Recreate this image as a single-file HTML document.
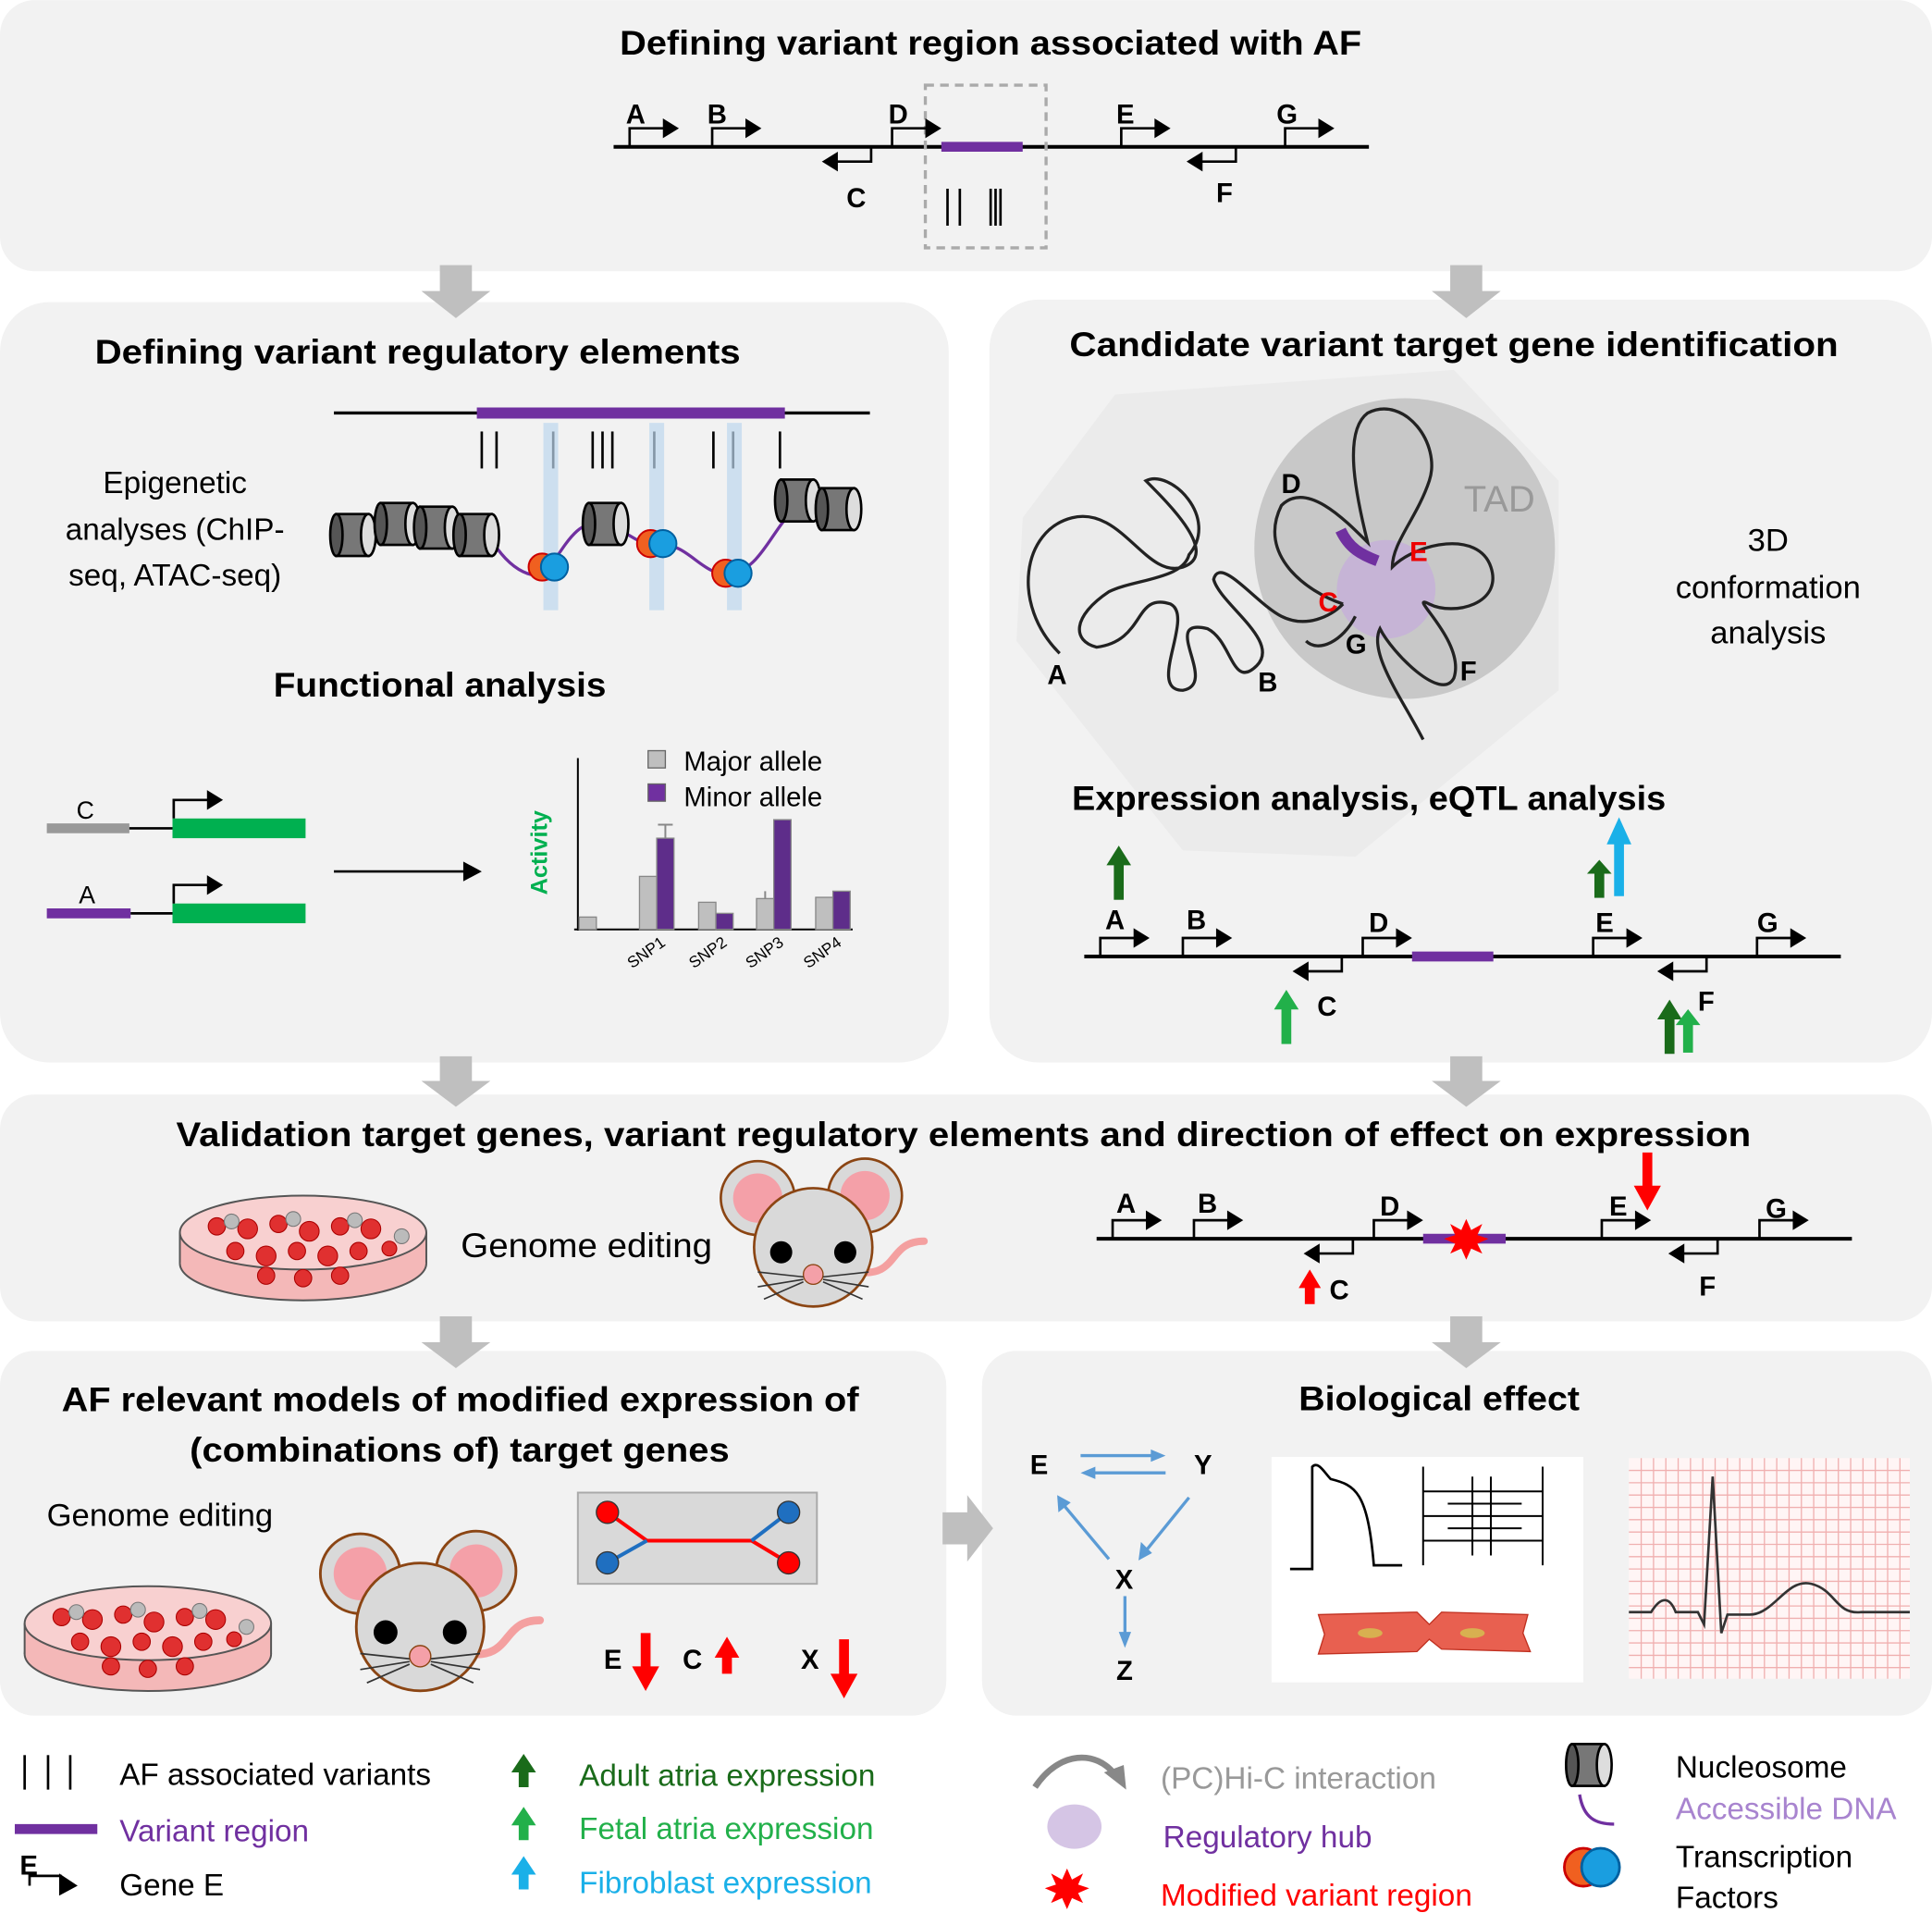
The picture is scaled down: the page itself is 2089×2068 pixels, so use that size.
<!DOCTYPE html>
<html><head><meta charset="utf-8"><style>
html,body{margin:0;padding:0;background:#fff;}
svg{display:block;}
text{font-family:"Liberation Sans",sans-serif;}
.t{font-weight:bold;font-size:28px;fill:#000;}
.l{font-size:25px;}
.g{font-weight:bold;font-size:22px;}
</style></head><body>
<svg width="2089" height="2068" viewBox="0 0 1568 1552" xmlns="http://www.w3.org/2000/svg">
<defs>
<g id="fw"><path d="M0 0 V-15 H28" fill="none" stroke="#000" stroke-width="2"/><polygon points="27,-23 40,-15 27,-7" fill="#000"/></g>
<g id="rv"><path d="M0 0 V12 H-28" fill="none" stroke="#000" stroke-width="2"/><polygon points="-27,4 -40,12 -27,20" fill="#000"/></g>
<g id="nuc"><rect x="-14" y="-17" width="26" height="34" fill="#777" stroke="#000" stroke-width="2"/><ellipse cx="-14" cy="0" rx="5" ry="17" fill="#555" stroke="#000" stroke-width="2"/><ellipse cx="12" cy="0" rx="6" ry="17" fill="#ddd" stroke="#000" stroke-width="2"/></g>
<g id="tf"><circle cx="-5" cy="0" r="11" fill="#f06020" stroke="#c00" stroke-width="1.5"/><circle cx="5" cy="0" r="11" fill="#1a9ee0" stroke="#0060a0" stroke-width="1.5"/></g>
<g id="up"><rect x="-4" y="14" width="8" height="30" fill="currentColor"/><polygon points="-10,16 10,16 0,0" fill="currentColor"/></g>
<g id="petri">
<ellipse cx="0" cy="20" rx="100" ry="30" fill="#f4b8b8" stroke="#555" stroke-width="1.5"/>
<rect x="-100" y="-5" width="200" height="25" fill="#f4b8b8"/>
<line x1="-100" y1="-5" x2="-100" y2="20" stroke="#555" stroke-width="1.5"/><line x1="100" y1="-5" x2="100" y2="20" stroke="#555" stroke-width="1.5"/>
<ellipse cx="0" cy="-5" rx="100" ry="30" fill="#f8d0d0" stroke="#555" stroke-width="1.5"/>
<g fill="#e03030" stroke="#a00" stroke-width="0.8">
<circle cx="-70" cy="-10" r="7"/><circle cx="-45" cy="-8" r="8"/><circle cx="-20" cy="-12" r="7"/><circle cx="5" cy="-6" r="8"/><circle cx="30" cy="-10" r="7"/><circle cx="55" cy="-8" r="8"/>
<circle cx="-55" cy="10" r="7"/><circle cx="-30" cy="14" r="8"/><circle cx="-5" cy="10" r="7"/><circle cx="20" cy="14" r="8"/><circle cx="45" cy="10" r="7"/><circle cx="70" cy="8" r="6"/>
<circle cx="-30" cy="30" r="7"/><circle cx="0" cy="32" r="7"/><circle cx="30" cy="30" r="7"/></g>
<g fill="#bbb" stroke="#777" stroke-width="0.8"><circle cx="-58" cy="-14" r="6"/><circle cx="-8" cy="-16" r="6"/><circle cx="42" cy="-15" r="6"/><circle cx="80" cy="-2" r="6"/></g>
</g>
<g id="mouse">
<path d="M35 20 C70 25 60 -5 90 -5" fill="none" stroke="#f4a0a0" stroke-width="6" stroke-linecap="round"/>
<circle cx="-45" cy="-40" r="30" fill="#d9d9d9" stroke="#8b4513" stroke-width="2"/><circle cx="-45" cy="-40" r="20" fill="#f4a0a8"/>
<circle cx="42" cy="-42" r="30" fill="#d9d9d9" stroke="#8b4513" stroke-width="2"/><circle cx="42" cy="-42" r="20" fill="#f4a0a8"/>
<circle cx="0" cy="0" r="48" fill="#d9d9d9" stroke="#8b4513" stroke-width="2"/>
<circle cx="-26" cy="4" r="9" fill="#000"/><circle cx="26" cy="4" r="9" fill="#000"/>
<circle cx="0" cy="22" r="8" fill="#f4a0a8" stroke="#8b4513" stroke-width="1"/>
<g stroke="#333" stroke-width="1.2"><line x1="-8" y1="24" x2="-45" y2="20"/><line x1="-8" y1="26" x2="-45" y2="32"/><line x1="-8" y1="28" x2="-40" y2="42"/><line x1="8" y1="24" x2="45" y2="20"/><line x1="8" y1="26" x2="45" y2="32"/><line x1="8" y1="28" x2="40" y2="42"/></g>
</g>
<polygon id="burst" points="0,-16 4,-7 13,-12 9,-3 18,0 9,4 13,12 4,8 0,17 -4,8 -13,12 -9,4 -18,0 -9,-3 -13,-12 -4,-7" fill="#f00"/>
</defs>

<!-- panels -->
<g fill="#f2f2f2">
<rect x="0" y="0" width="1568" height="220" rx="28"/>
<rect x="0" y="245" width="770" height="617" rx="40"/>
<rect x="803" y="243" width="765" height="619" rx="40"/>
<rect x="0" y="888" width="1568" height="184" rx="28"/>
<rect x="0" y="1096" width="768" height="296" rx="28"/>
<rect x="797" y="1096" width="771" height="296" rx="28"/>
</g>
<!-- gray arrows -->
<g fill="#bfbfbf">
<polygon points="357,215 383,215 383,236 398,236 370,258 342,236 357,236"/>
<polygon points="1177,215 1203,215 1203,236 1218,236 1190,258 1162,236 1177,236"/>
<polygon points="357,857 383,857 383,877 398,877 370,898 342,877 357,877"/>
<polygon points="1177,857 1203,857 1203,877 1218,877 1190,898 1162,877 1177,877"/>
<polygon points="357,1068 383,1068 383,1089 398,1089 370,1110 342,1089 357,1089"/>
<polygon points="1177,1068 1203,1068 1203,1089 1218,1089 1190,1110 1162,1089 1177,1089"/>
<polygon points="765,1227 785,1227 785,1213 806,1240 785,1267 785,1253 765,1253"/>
</g>

<!-- top -->
<text x="503" y="44" class="t" textLength="602" lengthAdjust="spacingAndGlyphs">Defining variant region associated with AF</text>
<line x1="498" y1="119" x2="1111" y2="119" stroke="#000" stroke-width="3"/>
<line x1="764" y1="119" x2="830" y2="119" stroke="#7030a0" stroke-width="8"/>
<rect x="751" y="69" width="98" height="132" fill="none" stroke="#aaa" stroke-width="2.5" stroke-dasharray="7,5"/>
<use href="#fw" x="511" y="119"/><use href="#fw" x="578" y="119"/><use href="#fw" x="724" y="119"/><use href="#fw" x="910" y="119"/><use href="#fw" x="1043" y="119"/>
<use href="#rv" x="707" y="119"/><use href="#rv" x="1003" y="119"/>
<g class="g"><text x="508" y="100">A</text><text x="574" y="100">B</text><text x="721" y="100">D</text><text x="906" y="100">E</text><text x="1036" y="100">G</text><text x="687" y="168">C</text><text x="987" y="164">F</text></g>
<g stroke="#000" stroke-width="2"><line x1="769" y1="153" x2="769" y2="183"/><line x1="779" y1="153" x2="779" y2="183"/><line x1="804" y1="153" x2="804" y2="183"/><line x1="808" y1="153" x2="808" y2="183"/><line x1="812" y1="153" x2="812" y2="183"/></g>

<!-- left mid -->
<text x="77" y="295" class="t" textLength="524" lengthAdjust="spacingAndGlyphs">Defining variant regulatory elements</text>
<line x1="271" y1="335" x2="706" y2="335" stroke="#000" stroke-width="2.5"/>
<line x1="387" y1="335" x2="637" y2="335" stroke="#7030a0" stroke-width="9"/>
<g stroke="#000" stroke-width="2"><line x1="391" y1="350" x2="391" y2="380"/><line x1="403" y1="350" x2="403" y2="380"/><line x1="449" y1="350" x2="449" y2="380"/><line x1="481" y1="350" x2="481" y2="380"/><line x1="489" y1="350" x2="489" y2="380"/><line x1="497" y1="350" x2="497" y2="380"/><line x1="531" y1="350" x2="531" y2="380"/><line x1="579" y1="350" x2="579" y2="380"/><line x1="595" y1="350" x2="595" y2="380"/><line x1="633" y1="350" x2="633" y2="380"/></g>
<g fill="#bdd7ee" opacity="0.7"><rect x="441" y="343" width="12" height="152"/><rect x="527" y="343" width="12" height="152"/><rect x="590" y="343" width="12" height="152"/></g>
<path d="M400 440 C420 470 440 470 445 462 C460 440 470 420 490 425 C510 430 520 445 535 442 C560 440 570 470 595 465 C620 460 630 420 650 410" fill="none" stroke="#7030a0" stroke-width="2.5"/>
<use href="#nuc" x="287" y="434"/><use href="#nuc" x="323" y="425"/><use href="#nuc" x="355" y="428"/><use href="#nuc" x="387" y="434"/><use href="#nuc" x="492" y="425"/><use href="#nuc" x="648" y="406"/><use href="#nuc" x="681" y="413"/>
<use href="#tf" x="445" y="460"/><use href="#tf" x="533" y="441"/><use href="#tf" x="594" y="465"/>
<g class="l" text-anchor="middle" font-size="26"><text x="142" y="400">Epigenetic</text><text x="142" y="438">analyses (ChIP-</text><text x="142" y="475">seq, ATAC-seq)</text></g>
<text x="222" y="565" class="t" textLength="270" lengthAdjust="spacingAndGlyphs">Functional analysis</text>
<line x1="38" y1="672" x2="105" y2="672" stroke="#999" stroke-width="8"/><line x1="105" y1="672" x2="140" y2="672" stroke="#000" stroke-width="2"/>
<rect x="140" y="664" width="108" height="16" fill="#00b050"/>
<use href="#fw" x="141" y="664"/>
<line x1="38" y1="741" x2="106" y2="741" stroke="#7030a0" stroke-width="8"/><line x1="106" y1="741" x2="140" y2="741" stroke="#000" stroke-width="2"/>
<rect x="140" y="733" width="108" height="16" fill="#00b050"/>
<use href="#fw" x="141" y="733"/>
<text x="62" y="664" font-size="20">C</text><text x="64" y="733" font-size="20">A</text>
<line x1="271" y1="707" x2="378" y2="707" stroke="#000" stroke-width="2"/><polygon points="376,699 391,707 376,715" fill="#000"/>
<line x1="469" y1="615" x2="469" y2="755" stroke="#000" stroke-width="1.5"/><line x1="466" y1="754" x2="692" y2="754" stroke="#000" stroke-width="1.5"/>
<text transform="translate(444,726) rotate(-90)" font-size="19" font-weight="bold" fill="#00b050">Activity</text>
<g fill="#bfbfbf" stroke="#888"><rect x="470" y="744" width="14" height="10"/><rect x="519" y="711" width="14" height="43"/><rect x="567" y="732" width="14" height="22"/><rect x="614" y="729" width="14" height="25"/><rect x="662" y="728" width="14" height="26"/></g>
<g fill="#5e2d8a" stroke="#888"><rect x="533" y="680" width="14" height="74"/><rect x="581" y="741" width="14" height="13"/><rect x="628" y="665" width="14" height="89"/><rect x="676" y="723" width="14" height="31"/></g>
<g stroke="#888" stroke-width="1.5"><line x1="540" y1="669" x2="540" y2="680"/><line x1="534" y1="669" x2="546" y2="669"/><line x1="621" y1="723" x2="621" y2="729"/></g>
<rect x="526" y="609" width="14" height="14" fill="#bfbfbf" stroke="#666"/><rect x="526" y="636" width="14" height="14" fill="#7030a0" stroke="#666"/>
<text x="555" y="625" font-size="22">Major allele</text><text x="555" y="654" font-size="22">Minor allele</text>
<g font-size="13"><text transform="translate(513,786) rotate(-35)">SNP1</text><text transform="translate(563,786) rotate(-35)">SNP2</text><text transform="translate(609,786) rotate(-35)">SNP3</text><text transform="translate(656,786) rotate(-35)">SNP4</text></g>

<!-- right mid -->
<polygon points="905,320 1180,300 1265,390 1265,560 1100,695 960,690 825,520 830,420" fill="#ebebeb"/>
<text x="868" y="289" class="t" textLength="624" lengthAdjust="spacingAndGlyphs">Candidate variant target gene identification</text>
<circle cx="1140" cy="445" r="122" fill="#c8c8c8"/>
<circle cx="1125" cy="478" r="40" fill="#c6b0d8" opacity="0.85"/>
<text x="1188" y="415" font-size="30" fill="#999">TAD</text>
<g fill="none" stroke="#222" stroke-width="2.5">
<path d="M860 530 C820 490 830 430 870 420 C910 410 930 470 960 460 C990 450 950 410 930 390 C950 380 990 420 965 450 C960 470 920 470 900 480 C870 500 870 520 890 525 C930 520 920 480 950 490 C970 500 930 560 960 560 C990 555 940 500 980 510 C1000 520 1000 560 1020 540 C1040 520 990 490 985 470 C990 450 1020 490 1040 500 C1060 510 1080 500 1090 490"/>
<path d="M1090 490 C1060 480 1020 450 1040 410 C1060 390 1090 420 1110 440 C1100 400 1090 350 1110 335 C1140 320 1170 360 1160 390 C1150 420 1130 440 1130 460 C1150 440 1200 430 1210 460 C1220 490 1180 500 1160 490 C1140 480 1190 520 1180 550 C1170 570 1130 530 1120 510 C1110 530 1140 570 1155 600 M1100 500 C1090 520 1070 530 1060 520"/>
</g>
<path d="M1088 430 C1095 445 1105 450 1118 455" fill="none" stroke="#7030a0" stroke-width="9"/>
<g class="g"><text x="1040" y="400">D</text><text x="1144" y="455" fill="#e00">E</text><text x="1070" y="496" fill="#e00">C</text><text x="1092" y="530">G</text><text x="1185" y="552">F</text><text x="850" y="555">A</text><text x="1021" y="561">B</text></g>
<g font-size="26" text-anchor="middle"><text x="1435" y="447">3D</text><text x="1435" y="485">conformation</text><text x="1435" y="522">analysis</text></g>
<text x="870" y="657" class="t" textLength="482" lengthAdjust="spacingAndGlyphs">Expression analysis, eQTL analysis</text>
<line x1="880" y1="776" x2="1494" y2="776" stroke="#000" stroke-width="3"/>
<line x1="1146" y1="776" x2="1212" y2="776" stroke="#7030a0" stroke-width="8"/>
<use href="#fw" x="893" y="776"/><use href="#fw" x="960" y="776"/><use href="#fw" x="1106" y="776"/><use href="#fw" x="1293" y="776"/><use href="#fw" x="1426" y="776"/>
<use href="#rv" x="1089" y="776"/><use href="#rv" x="1385" y="776"/>
<g class="g"><text x="897" y="754">A</text><text x="963" y="754">B</text><text x="1111" y="756">D</text><text x="1295" y="756">E</text><text x="1426" y="756">G</text><text x="1069" y="824">C</text><text x="1378" y="820">F</text></g>
<use href="#up" x="908" y="686" style="color:#1a6b1a"/>
<use href="#up" x="1044" y="803" style="color:#22b04a"/>
<g style="color:#1a6b1a"><use href="#up" x="1298" y="698" transform="matrix(1,0,0,0.7,0,209)"/></g>
<path d="M1310 727 V685 H1304 L1314 663 L1324 685 H1318 V727 Z" fill="#1ab0e8"/>
<use href="#up" x="1355" y="811" style="color:#1a6b1a"/>
<use href="#up" x="1370" y="816" style="color:#22b04a" transform="matrix(1,0,0,0.8,0,166)"/>

<!-- validation -->
<text x="143" y="930" class="t" textLength="1278" lengthAdjust="spacingAndGlyphs">Validation target genes, variant regulatory elements and direction of effect on expression</text>
<use href="#petri" x="246" y="1005"/>
<text x="374" y="1020" font-size="28" textLength="204" lengthAdjust="spacingAndGlyphs">Genome editing</text>
<use href="#mouse" x="660" y="1012"/>
<line x1="890" y1="1005" x2="1503" y2="1005" stroke="#000" stroke-width="3"/>
<line x1="1155" y1="1005" x2="1222" y2="1005" stroke="#7030a0" stroke-width="8"/>
<use href="#burst" x="1190" y="1005"/>
<use href="#fw" x="903" y="1005"/><use href="#fw" x="969" y="1005"/><use href="#fw" x="1115" y="1005"/><use href="#fw" x="1300" y="1005"/><use href="#fw" x="1428" y="1005"/>
<use href="#rv" x="1098" y="1005"/><use href="#rv" x="1394" y="1005"/>
<g class="g"><text x="906" y="984">A</text><text x="972" y="984">B</text><text x="1120" y="986">D</text><text x="1306" y="986">E</text><text x="1433" y="988">G</text><text x="1079" y="1054">C</text><text x="1379" y="1051">F</text></g>
<path d="M1333 935 V962 H1326 L1337 982 L1348 962 H1341 V935 Z" fill="#f00"/>
<path d="M1059 1058 V1045 H1054 L1063 1030 L1072 1045 H1067 V1058 Z" fill="#f00"/>

<!-- bottom left -->
<text x="50" y="1145" class="t" textLength="647" lengthAdjust="spacingAndGlyphs">AF relevant models of modified expression of</text>
<text x="154" y="1186" class="t" textLength="438" lengthAdjust="spacingAndGlyphs">(combinations of) target genes</text>
<text x="38" y="1238" font-size="26">Genome editing</text>
<use href="#petri" x="120" y="1322"/>
<use href="#mouse" transform="translate(341,1320) scale(1.08)"/>
<rect x="469" y="1211" width="194" height="74" fill="#d9d9d9" stroke="#aaa" stroke-width="1.5"/>
<path d="M493 1227 L525 1250 H610 L640 1268" fill="none" stroke="#f00" stroke-width="3"/>
<path d="M493 1268 L525 1250 M610 1250 L640 1227" fill="none" stroke="#1f6fc0" stroke-width="3"/>
<circle cx="493" cy="1227" r="9" fill="#f00" stroke="#333"/><circle cx="640" cy="1268" r="9" fill="#f00" stroke="#333"/>
<circle cx="640" cy="1227" r="9" fill="#1f6fc0" stroke="#333"/><circle cx="493" cy="1268" r="9" fill="#1f6fc0" stroke="#333"/>
<g class="g"><text x="490" y="1354">E</text><text x="554" y="1354">C</text><text x="650" y="1354">X</text></g>
<path d="M520 1325 V1352 H513 L524 1372 L535 1352 H528 V1325 Z" fill="#f00"/>
<path d="M586 1358 V1345 H580 L590 1328 L600 1345 H594 V1358 Z" fill="#f00"/>
<path d="M681 1330 V1358 H674 L685 1378 L696 1358 H689 V1330 Z" fill="#f00"/>

<!-- bottom right -->
<text x="1054" y="1144" class="t" textLength="228" lengthAdjust="spacingAndGlyphs">Biological effect</text>
<g class="g"><text x="836" y="1196">E</text><text x="969" y="1196">Y</text><text x="905" y="1289">X</text><text x="906" y="1363">Z</text></g>
<g stroke="#5b9bd5" stroke-width="2.5" fill="#5b9bd5">
<line x1="877" y1="1181" x2="936" y2="1181"/><polygon points="934,1176 946,1181 934,1186" stroke="none"/>
<line x1="946" y1="1195" x2="887" y2="1195"/><polygon points="889,1190 877,1195 889,1200" stroke="none"/>
<line x1="965" y1="1215" x2="931" y2="1257"/><polygon points="926,1251 924,1266 935,1260" stroke="none"/>
<line x1="900" y1="1265" x2="864" y2="1222"/><polygon points="859,1227 858,1213 869,1219" stroke="none"/>
<line x1="913" y1="1295" x2="913" y2="1325"/><polygon points="908,1324 913,1337 918,1324" stroke="none"/>
</g>
<rect x="1032" y="1182" width="253" height="183" fill="#fff"/>
<path d="M1047 1273 H1065 V1190 C1070 1185 1075 1195 1080 1200 C1100 1205 1110 1210 1115 1270 H1138" fill="none" stroke="#000" stroke-width="2"/>
<g stroke="#000" stroke-width="1.5" fill="none"><line x1="1155" y1="1190" x2="1155" y2="1270"/><line x1="1252" y1="1190" x2="1252" y2="1270"/><line x1="1155" y1="1210" x2="1252" y2="1210"/><line x1="1155" y1="1230" x2="1252" y2="1230"/><line x1="1155" y1="1250" x2="1252" y2="1250"/><line x1="1195" y1="1198" x2="1195" y2="1262"/><line x1="1210" y1="1198" x2="1210" y2="1262"/><line x1="1175" y1="1220" x2="1235" y2="1220"/><line x1="1175" y1="1240" x2="1235" y2="1240"/></g>
<path d="M1070 1310 L1150 1308 L1160 1318 L1170 1308 L1240 1310 L1236 1325 L1242 1340 L1170 1338 L1160 1330 L1150 1340 L1070 1342 L1075 1326 Z" fill="#e86050" stroke="#c03020"/>
<ellipse cx="1112" cy="1325" rx="10" ry="4" fill="#d8b050"/><ellipse cx="1195" cy="1325" rx="10" ry="4" fill="#d8b050"/>
<rect x="1322" y="1183" width="228" height="179" fill="#fff5f5"/>
<g stroke="#f0b0b0" stroke-width="1">
<path d="M1322 1193 H1550 M1322 1203 H1550 M1322 1213 H1550 M1322 1223 H1550 M1322 1233 H1550 M1322 1243 H1550 M1322 1253 H1550 M1322 1263 H1550 M1322 1273 H1550 M1322 1283 H1550 M1322 1293 H1550 M1322 1303 H1550 M1322 1313 H1550 M1322 1323 H1550 M1322 1333 H1550 M1322 1343 H1550 M1322 1353 H1550"/>
<path d="M1332 1183 V1362 M1342 1183 V1362 M1352 1183 V1362 M1362 1183 V1362 M1372 1183 V1362 M1382 1183 V1362 M1392 1183 V1362 M1402 1183 V1362 M1412 1183 V1362 M1422 1183 V1362 M1432 1183 V1362 M1442 1183 V1362 M1452 1183 V1362 M1462 1183 V1362 M1472 1183 V1362 M1482 1183 V1362 M1492 1183 V1362 M1502 1183 V1362 M1512 1183 V1362 M1522 1183 V1362 M1532 1183 V1362 M1542 1183 V1362"/>
</g>
<path d="M1322 1308 H1340 C1348 1295 1355 1295 1360 1308 H1378 L1383 1318 L1390 1198 L1397 1325 L1402 1310 H1420 C1440 1310 1450 1280 1470 1285 C1490 1290 1490 1310 1510 1308 H1550" fill="none" stroke="#333" stroke-width="2"/>

<!-- legend -->
<g stroke="#000" stroke-width="2"><line x1="20" y1="1424" x2="20" y2="1452"/><line x1="39" y1="1424" x2="39" y2="1452"/><line x1="57" y1="1424" x2="57" y2="1452"/></g>
<text x="97" y="1448" class="l">AF associated variants</text>
<line x1="12" y1="1484" x2="79" y2="1484" stroke="#7030a0" stroke-width="8"/>
<text x="97" y="1494" class="l" fill="#7030a0">Variant region</text>
<path d="M24 1530 V1522 H50" fill="none" stroke="#000" stroke-width="2"/><polygon points="48,1520 63,1530 48,1538" fill="#000"/>
<text x="16" y="1521" class="g">E</text>
<text x="97" y="1538" class="l">Gene E</text>
<path d="M421 1450 V1438 H415 L425 1423 L435 1438 H429 V1450 Z" fill="#1a6b1a"/>
<path d="M421 1493 V1481 H415 L425 1466 L435 1481 H429 V1493 Z" fill="#22b04a"/>
<path d="M421 1533 V1521 H415 L425 1506 L435 1521 H429 V1533 Z" fill="#1ab0e8"/>
<text x="470" y="1449" class="l" fill="#1a6b1a">Adult atria expression</text>
<text x="470" y="1492" class="l" fill="#22b04a">Fetal atria expression</text>
<text x="470" y="1536" class="l" fill="#1ab0e8">Fibroblast expression</text>
<path d="M840 1450 C860 1420 890 1420 905 1440" fill="none" stroke="#888" stroke-width="5"/><polygon points="896,1438 914,1452 912,1432" fill="#888"/>
<text x="942" y="1451" class="l" fill="#999">(PC)Hi-C interaction</text>
<ellipse cx="872" cy="1482" rx="22" ry="18" fill="#d5c5e5"/>
<text x="944" y="1499" class="l" fill="#7030a0">Regulatory hub</text>
<use href="#burst" x="866" y="1532"/>
<text x="942" y="1546" class="l" fill="#f00">Modified variant region</text>
<use href="#nuc" x="1290" y="1432"/>
<path d="M1282 1456 C1285 1475 1295 1480 1310 1480" fill="none" stroke="#7030a0" stroke-width="2.5"/>
<g transform="translate(1292,1515) scale(1.4)"><use href="#tf"/></g>
<text x="1360" y="1442" class="l">Nucleosome</text>
<text x="1360" y="1476" class="l" fill="#a884cf">Accessible DNA</text>
<text x="1360" y="1515" class="l">Transcription</text>
<text x="1360" y="1548" class="l">Factors</text>
</svg>
</body></html>
